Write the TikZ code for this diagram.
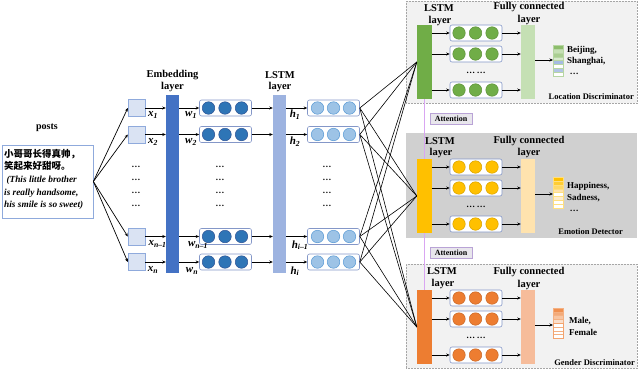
\documentclass[tikz,border=0pt]{standalone}
\usepackage{fontspec}
\setmainfont{Liberation Serif}
\newfontfamily\cjk{Noto Sans CJK SC}
\usetikzlibrary{arrows.meta}
\definecolor{inF}{HTML}{DAE3F3}
\definecolor{inB}{HTML}{8FAADC}
\definecolor{embC}{HTML}{4472C4}
\definecolor{boxB}{HTML}{8497C8}
\definecolor{wdotF}{HTML}{2E75B6}
\definecolor{wdotB}{HTML}{2F5597}
\definecolor{lstmC}{HTML}{9DB3E0}
\definecolor{hdotF}{HTML}{9DC3E6}
\definecolor{hdotB}{HTML}{5B9BD5}
\definecolor{grnC}{HTML}{70AD47}
\definecolor{grnFC}{HTML}{C5E0B4}
\definecolor{ylwC}{HTML}{FFC000}
\definecolor{ylwFC}{HTML}{FFE3AE}
\definecolor{orgC}{HTML}{ED7D31}
\definecolor{orgFC}{HTML}{F6BC9A}
\definecolor{paleP}{HTML}{F2F2F2}
\definecolor{midP}{HTML}{D0D0D0}
\definecolor{panB}{HTML}{A6A6A6}
\definecolor{purp}{HTML}{D9A6F2}
\definecolor{attF}{HTML}{E8E6EC}
\definecolor{attB}{HTML}{B9A3D6}
\newcommand{\ml}[2]{\textbf{\textit{#1}\textsubscript{\textit{#2}}}}
\newcommand{\vdt}{.\kern0.7pt.\kern0.7pt.}
\begin{document}
\begin{tikzpicture}[x=1pt,y=-1pt,
  inbox/.style={draw=inB,fill=inF,minimum width=17pt,minimum height=17pt,inner sep=0pt},
  vbar/.style={inner sep=0pt,minimum width=13pt,minimum height=178pt},
  pbar/.style={inner sep=0pt,minimum width=15pt,minimum height=74pt},
  fcbar/.style={inner sep=0pt,minimum width=14pt,minimum height=74pt},
  cbox/.style={draw=boxB,fill=white,rounded corners=2pt,minimum width=52pt,minimum height=16pt,inner sep=0pt,line width=0.6pt},
  cdot/.style={circle,inner sep=0pt,minimum size=12.5pt,line width=0.5pt},
  arr/.style={-{Stealth[length=3.5pt,width=3pt]},line width=0.7pt},
  conn/.style={line width=0.6pt},
  lbl/.style={font=\fontsize{10.5}{11}\selectfont\bfseries,inner sep=0pt},
  mlbl/.style={font=\fontsize{11}{12}\selectfont,inner sep=0pt},
  small/.style={font=\fontsize{8.5}{10}\selectfont\bfseries,inner sep=0pt},
  dots/.style={font=\fontsize{9}{10}\selectfont\bfseries,inner sep=0pt},
  panel/.style={draw=panB,densely dotted,line width=0.5pt,minimum width=231pt,inner sep=0pt},
  attbox/.style={draw=attB,fill=attF,line width=0.6pt,minimum width=42pt,minimum height=11pt,inner sep=0pt,font=\fontsize{8}{9}\selectfont\bfseries},
  stripe/.style={inner sep=0pt,minimum width=10pt,minimum height=3.9pt,line width=0.3pt}
]
\useasboundingbox (0,0) rectangle (640,370);

% ---------- posts ----------
\node[lbl,font=\fontsize{10}{11}\selectfont\bfseries] (postslbl) at (47,128) {posts};
\node[draw=inB,line width=0.7pt,minimum width=91pt,minimum height=73pt,inner sep=0pt] (posts) at (47.5,181.5) {};
\node[anchor=north west,inner sep=0pt,align=left,font=\fontsize{9.3}{12.6}\selectfont\bfseries\itshape] (poststxt) at (4,149)
 {{\cjk\upshape\fontsize{9.5}{12.6}\selectfont 小哥哥长得真帅，}\\{\cjk\upshape\fontsize{9.5}{12.6}\selectfont 笑起来好甜呀。}\\\ (This little brother\\is really handsome,\\his smile is so sweet)};

% ---------- left columns ----------
\node[vbar,fill=embC] (emb) at (172.5,184) {};
\node[vbar,fill=lstmC] (lstm) at (279.5,184) {};
\node[lbl] (embl1) at (172.5,75) {Embedding};
\node[lbl] (embl2) at (172.5,87) {layer};
\node[lbl] (lstml1) at (280,75) {LSTM};
\node[lbl] (lstml2) at (280,87) {layer};

\foreach \i/\y in {1/108,2/134.5,3/236.5,4/262}{
  \node[inbox] (x\i) at (136.5,\y) {};
  \node[cbox] (w\i) at (225.5,\y) {};
  \node[cbox] (h\i) at (333.5,\y) {};
  \foreach \k/\cx in {1/208.5,2/225,3/241.5}
    \node[cdot,fill=wdotF,draw=wdotB] (w\i c\k) at (\cx,\y) {};
  \foreach \k/\cx in {1/317.5,2/333.5,3/349.5}
    \node[cdot,fill=hdotF,draw=hdotB] (h\i c\k) at (\cx,\y) {};
  \draw[arr] (posts.east) -- (x\i.west);
  \draw[arr] (x\i.east) -- (x\i.east -| emb.west);
  \draw[arr] (w\i.west -| emb.east) -- (w\i.west);
  \draw[arr] (w\i.east) -- (w\i.east -| lstm.west);
  \draw[arr] (h\i.west -| lstm.east) -- (h\i.west);
}
% labels
\node[mlbl] (xl1) at (153,115) {\ml{x}{1}};
\node[mlbl] (xl2) at (153,142) {\ml{x}{2}};
\node[mlbl] (xl3) at (157.5,244) {\ml{x}{n\textup{--}1}};
\node[mlbl] (xl4) at (153,270) {\ml{x}{n}};
\node[mlbl] (wl1) at (191,115) {\ml{w}{1}};
\node[mlbl] (wl2) at (191,142) {\ml{w}{2}};
\node[mlbl] (wl3) at (198,245) {\ml{w}{n\textup{--}1}};
\node[mlbl] (wl4) at (192,271) {\ml{w}{n}};
\node[mlbl] (hl1) at (295,115) {\ml{h}{1}};
\node[mlbl] (hl2) at (295,142) {\ml{h}{2}};
\node[mlbl] (hl3) at (300,245) {\ml{h}{i\textup{--}1}};
\node[mlbl] (hl4) at (295,271) {\ml{h}{i}};
% vertical dots
\foreach \y [count=\j] in {167,180,193,206}{
  \node[dots] (dx\j) at (136,\y) {\vdt};
  \node[dots] (dw\j) at (220,\y) {\vdt};
  \node[dots] (dh\j) at (327,\y) {\vdt};
}

% ---------- panels ----------
\node[panel,fill=paleP,minimum height=102pt] (pan1) at (521.5,52) {};
\node[panel,fill=midP,draw=none,minimum height=105pt] (pan2) at (521.5,185.5) {};
\node[panel,fill=paleP,minimum height=104pt] (pan3) at (521.5,316) {};

\node[attbox] (att1) at (451,119) {Attention};
\node[attbox] (att2) at (451,252.5) {Attention};

\foreach \p/\o/\bc/\fc/\dc in {1/0/grnC/grnFC/grnC,2/134/ylwC/ylwFC/ylwC,3/265/orgC/orgFC/orgC}{
  \node[pbar,fill=\bc] (lb\p) at (424.5,62+\o) {};
  \node[fcbar,fill=\fc] (fc\p) at (528,62+\o) {};
  \foreach \r/\ry in {1/33,2/54,3/90}{
    \node[cbox] (b\p r\r) at (476,\ry+\o) {};
    \foreach \k/\cx in {1/459,2/475.5,3/492}
      \node[cdot,fill=\dc,draw=\dc!85!black] (b\p r\r c\k) at (\cx,\ry+\o) {};
    \draw[arr] (b\p r\r.west -| lb\p.east) -- (b\p r\r.west);
    \draw[arr] (b\p r\r.east) -- (b\p r\r.east -| fc\p.west);
  }
  \node[dots] (pd\p) at (476,73+\o) {\vdt\ \vdt};
  \coordinate (oc\p) at (553,60+\o);
  \draw[arr] (fc\p.east |- oc\p) -- (oc\p);
}
% LSTM / FC labels
\node[lbl] (ll1a) at (439,8) {LSTM};
\node[lbl] (ll1b) at (440,20.5) {layer};
\node[lbl] (fl1a) at (529,7) {Fully connected};
\node[lbl] (fl1b) at (529,20) {layer};
\node[lbl] (ll2a) at (440,141) {LSTM};
\node[lbl] (ll2b) at (441,153) {layer};
\node[lbl] (fl2a) at (529,140.5) {Fully connected};
\node[lbl] (fl2b) at (529,153) {layer};
\node[lbl] (ll3a) at (442,271) {LSTM};
\node[lbl] (ll3b) at (443,284) {layer};
\node[lbl] (fl3a) at (529,272) {Fully connected};
\node[lbl] (fl3b) at (529,285) {layer};

% output stripes
\foreach \c [count=\j] in {grnC!80,grnFC,grnC!60,grnFC!70,inB!80,white,inB!70,white}
  \node[stripe,fill=\c,draw=grnC!50] (s1\j) at (558,43+3.9*\j) {};
\foreach \c [count=\j] in {ylwC,ylwC!80,ylwC!60,ylwFC,white,ylwFC!60,white,white}
  \node[stripe,fill=\c,draw=ylwC!50] (s2\j) at (558,175+3.9*\j) {};
\foreach \c [count=\j] in {orgC!85,orgC!65,orgC!45,orgC!25,white,white,white,white}
  \node[stripe,fill=\c,draw=orgC!60] (s3\j) at (558,306+3.8*\j) {};
\draw[orgC!70,line width=0.5pt] (s35.north west) rectangle (s38.south east);

\node[small,anchor=west,font=\fontsize{9}{10}\selectfont\bfseries] (t1a) at (567,50) {Beijing,};
\node[small,anchor=west,font=\fontsize{9}{10}\selectfont\bfseries] (t1b) at (567,61) {Shanghai,};
\node[dots,anchor=west] (t1c) at (570,73.5) {\vdt};
\node[small,anchor=west,font=\fontsize{9}{10}\selectfont\bfseries] (t2a) at (567,186) {Happiness,};
\node[small,anchor=west,font=\fontsize{9}{10}\selectfont\bfseries] (t2b) at (567,198) {Sadness,};
\node[dots,anchor=west] (t2c) at (570,211) {\vdt};
\node[small,anchor=west,font=\fontsize{9}{10}\selectfont\bfseries] (t3a) at (569,321) {Male,};
\node[small,anchor=west,font=\fontsize{9}{10}\selectfont\bfseries] (t3b) at (569,332) {Female};

\node[small,anchor=east] (n1) at (634,97) {Location Discriminator};
\node[small,anchor=east] (n2) at (623,232) {Emotion Detector};
\node[small,anchor=east] (n3) at (635,363) {Gender Discriminator};

% attention line
\draw[purp,line width=1pt] (lb1.south) -- (lb2.north);
\draw[purp,line width=1pt] (lb2.south) -- (lb3.north);

% h to task LSTM connections
\foreach \i in {1,2,3,4}
  \foreach \p in {1,2,3}
    \draw[conn] (h\i.east) -- (lb\p.west);
\end{tikzpicture}
\end{document}
